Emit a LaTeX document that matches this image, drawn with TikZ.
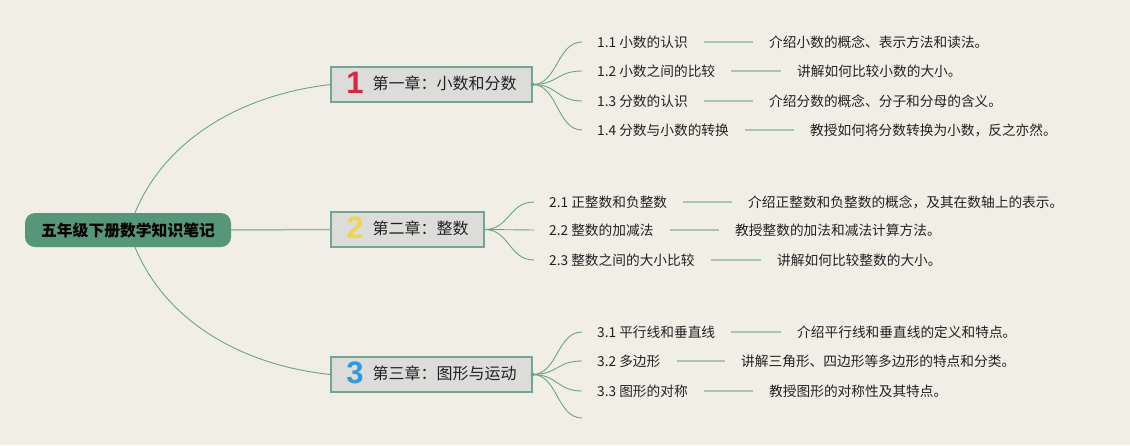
\documentclass[tikz,border=0pt]{standalone}
\usepackage{fontspec}
\setmainfont{Noto Sans CJK SC}
\newfontfamily\numfont{Liberation Sans}
\definecolor{bg}{HTML}{F1EEE5}
\definecolor{rootgreen}{HTML}{56977A}
\definecolor{boxfill}{HTML}{DCDCDB}
\definecolor{boxborder}{HTML}{74A590}
\definecolor{linegreen}{HTML}{6AA58A}
\definecolor{sepgreen}{HTML}{A6C5B4}
\definecolor{rootline}{HTML}{93BDA8}
\definecolor{txt}{HTML}{222222}
\definecolor{numred}{HTML}{D8283E}
\definecolor{numyellow}{HTML}{F1D54A}
\definecolor{numblue}{HTML}{2C9CDC}
\tikzset{
  rootbox/.style={fill=rootgreen, rounded corners=10pt, minimum width=206, minimum height=34, inner sep=0,
    font=\fontsize{15.8}{18}\selectfont\bfseries, text=black},
  chapbox/.style={draw=boxborder, line width=1.1pt, fill=boxfill, minimum height=35, inner sep=0,
    font=\fontsize{16}{19}\selectfont, text=txt},
  leaftext/.style={anchor=west, inner sep=0, font=\fontsize{13.7}{16}\selectfont, text=txt},
  branchline/.style={draw=linegreen, line width=0.9pt},
  sepline/.style={draw=sepgreen, line width=1.8pt, shorten <=16pt, shorten >=16pt},
  mainline/.style={draw=rootline, line width=1.5pt},
}
\newcommand{\chnum}[2]{\raisebox{-4pt}{\smash{\numfont\bfseries\fontsize{31}{31}\selectfont\textcolor{#1}{#2}}}\hspace{9pt}}
\begin{document}
\begin{tikzpicture}[x=1pt,y=-1pt]
\useasboundingbox[fill=bg] (0,0) rectangle (1130,445);

% root
\node[rootbox] (root) at (128,230) {五年级下册数学知识笔记};

% chapters
\node[chapbox, minimum width=201] (c1) at (431.5,84.5) {\chnum{numred}{1}第一章：小数和分数};
\node[chapbox, minimum width=153] (c2) at (407.5,229.5) {\chnum{numyellow}{2}第二章：整数};
\node[chapbox, minimum width=201] (c3) at (431.5,374.5) {\chnum{numblue}{3}第三章：图形与运动};

% root connectors
\draw[mainline] (root.east) -- (c2.west);
\draw[branchline] ([xshift=7]root.north) .. controls (165,140) and (240,95) .. (c1.west);
\draw[branchline] ([xshift=7]root.south) .. controls (165,320) and (240,365) .. (c3.west);

% chapter 1 leaves
\node[leaftext] (l11) at (597,42) {1.1 小数的认识};
\node[leaftext] (l12) at (597,71) {1.2 小数之间的比较};
\node[leaftext] (l13) at (597,101) {1.3 分数的认识};
\node[leaftext] (l14) at (597,130) {1.4 分数与小数的转换};
\node[leaftext] (d11) at (769,42) {介绍小数的概念、表示方法和读法。};
\node[leaftext] (d12) at (797,71) {讲解如何比较小数的大小。};
\node[leaftext] (d13) at (769,101) {介绍分数的概念、分子和分母的含义。};
\node[leaftext] (d14) at (810,130) {教授如何将分数转换为小数，反之亦然。};
\foreach \n in {11,12,13,14}{
  \draw[branchline] (c1.east) .. controls +(25,0) and +(-25,0) .. ([xshift=-15]l\n.west);
  \draw[sepline] (l\n.east) -- (d\n.west);
}
\fill[linegreen] (c1.east) circle (2);

% chapter 2 leaves
\node[leaftext] (l21) at (549,202) {2.1 正整数和负整数};
\node[leaftext] (l22) at (549,230) {2.2 整数的加减法};
\node[leaftext] (l23) at (549,260) {2.3 整数之间的大小比较};
\node[leaftext] (d21) at (748,202) {介绍正整数和负整数的概念，及其在数轴上的表示。};
\node[leaftext] (d22) at (735,230) {教授整数的加法和减法计算方法。};
\node[leaftext] (d23) at (777,260) {讲解如何比较整数的大小。};
\foreach \n in {21,22,23}{
  \draw[branchline] (c2.east) .. controls +(25,0) and +(-25,0) .. ([xshift=-15]l\n.west);
  \draw[sepline] (l\n.east) -- (d\n.west);
}

% chapter 3 leaves
\node[leaftext] (l31) at (597,332) {3.1 平行线和垂直线};
\node[leaftext] (l32) at (597,361) {3.2 多边形};
\node[leaftext] (l33) at (597,391) {3.3 图形的对称};
\coordinate (l34) at (582,418);
\node[leaftext] (d31) at (797,332) {介绍平行线和垂直线的定义和特点。};
\node[leaftext] (d32) at (741,361) {讲解三角形、四边形等多边形的特点和分类。};
\node[leaftext] (d33) at (769,391) {教授图形的对称性及其特点。};
\foreach \n in {31,32,33}{
  \draw[branchline] (c3.east) .. controls +(25,0) and +(-25,0) .. ([xshift=-15]l\n.west);
  \draw[sepline] (l\n.east) -- (d\n.west);
}
\draw[branchline] (c3.east) .. controls +(25,0) and +(-25,0) .. (l34);
\fill[linegreen] (c3.east) circle (2);
\end{tikzpicture}
\end{document}
